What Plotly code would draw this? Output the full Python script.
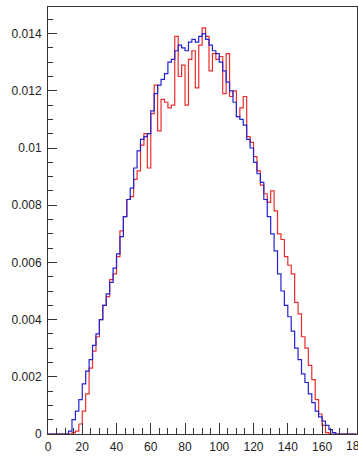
import numpy as np
import plotly.graph_objects as go

# Histogram binning: 90 bins of width 2 over [0, 180]
bin_edges = np.arange(0, 182, 2)

# Normalised bin contents (fraction of entries per bin)
blue_counts = [
    0, 0, 0, 0, 0, 0, 0.0001, 0.0005, 0.0008, 0.0012,
    0.00175, 0.0022, 0.0026, 0.0031, 0.0035, 0.0040, 0.0045, 0.0049, 0.0053, 0.0058,
    0.0063, 0.0069, 0.0076, 0.0082, 0.0086, 0.0093, 0.0099, 0.0103, 0.0104, 0.0105,
    0.0113, 0.0119, 0.0122, 0.0124, 0.0126, 0.0130, 0.0131, 0.0134, 0.0136, 0.0135,
    0.0134, 0.0137, 0.0138, 0.0137, 0.0139, 0.0140, 0.0138, 0.0136, 0.0134, 0.0133,
    0.0130, 0.0127, 0.0123, 0.0120, 0.0116, 0.0111, 0.0110, 0.0108, 0.0103, 0.0100,
    0.0095, 0.0091, 0.0088, 0.0082, 0.0076, 0.0070, 0.0064, 0.0056, 0.0050, 0.0045,
    0.0041, 0.0036, 0.0030, 0.0026, 0.0021, 0.0018, 0.0014, 0.0011, 0.0008, 0.0006,
    0.00045, 0.0003, 0.00015, 0.00005, 0, 0, 0, 0, 0, 0,
]

red_counts = [
    0, 0, 0, 0, 0, 0, 0, 0.00005, 0.0001, 0.00035,
    0.0008, 0.0014, 0.0023, 0.0029, 0.0034, 0.0040, 0.0045, 0.0048, 0.0054, 0.0056,
    0.0062, 0.0071, 0.0076, 0.0082, 0.0083, 0.0089, 0.0092, 0.0101, 0.0105, 0.0093,
    0.0112, 0.0122, 0.0106, 0.0117, 0.0116, 0.0114, 0.0115, 0.0139, 0.0125, 0.0129,
    0.0115, 0.0131, 0.0134, 0.0121, 0.0136, 0.0142, 0.0139, 0.0127, 0.0133, 0.0131,
    0.0132, 0.0119, 0.0133, 0.0118, 0.0120, 0.0111, 0.0114, 0.0118, 0.0104, 0.0102,
    0.0097, 0.0092, 0.0087, 0.0084, 0.0081, 0.0085, 0.0078, 0.0070, 0.0068, 0.0062,
    0.0059, 0.0056, 0.0046, 0.0042, 0.0034, 0.0030, 0.0024, 0.0019, 0.0012, 0.0007,
    0.0003, 0.00005, 0, 0, 0, 0, 0, 0, 0, 0,
]

x_ticks = [0, 20, 40, 60, 80, 100, 120, 140, 160, 180]
y_ticks = [0, 0.002, 0.004, 0.006, 0.008, 0.01, 0.012, 0.014]
y_tick_text = ["0", "0.002", "0.004", "0.006", "0.008", "0.01", "0.012", "0.014"]


def step_trace(counts, color):
    # Outline of a histogram: each bin drawn flat from its left to right edge
    x = list(bin_edges)
    y = list(counts) + [counts[-1]]
    return go.Scatter(
        x=x, y=y, mode="lines", line=dict(color=color, width=1.2, shape="hv"),
        hoverinfo="skip", showlegend=False,
    )


fig = go.Figure()
fig.add_trace(step_trace(red_counts, "rgb(235,45,45)"))
fig.add_trace(step_trace(blue_counts, "rgb(35,35,210)"))

font = dict(family="Liberation Sans, Arial, Helvetica, sans-serif", size=12, color="#222")

# The last x label sits on the page edge and is simply cut by it
x_tick_text = [str(v) for v in x_ticks[:-1]] + [""]
fig.add_annotation(
    x=x_ticks[-1], y=0, xref="x", yref="y", text=str(x_ticks[-1]),
    showarrow=False, xanchor="center", yanchor="top", yshift=-3, font=font,
)

fig.update_layout(
    width=358, height=456,
    margin=dict(l=48, r=1, t=7, b=22),
    paper_bgcolor="white", plot_bgcolor="white",
    font=font,
    xaxis=dict(
        range=[0, 180.4], tickvals=x_ticks, ticktext=x_tick_text,
        ticks="inside", ticklen=11, tickwidth=1, tickcolor="#333",
        minor=dict(dtick=5, tick0=0, ticks="inside", ticklen=6, tickcolor="#333", showgrid=False),
        showgrid=False, zeroline=False, showline=True, linecolor="#333", linewidth=1,
        mirror=True, tickfont=font, ticklabelstandoff=2,
    ),
    yaxis=dict(
        range=[0, 0.01493], tickvals=y_ticks, ticktext=y_tick_text,
        ticks="inside", ticklen=9, tickwidth=1, tickcolor="#333",
        minor=dict(dtick=0.0005, tick0=0, ticks="inside", ticklen=5, tickcolor="#333", showgrid=False),
        showgrid=False, zeroline=False, showline=True, linecolor="#333", linewidth=1,
        mirror=True, tickfont=font, ticklabelstandoff=3,
    ),
)

fig.write_html("out.html")
